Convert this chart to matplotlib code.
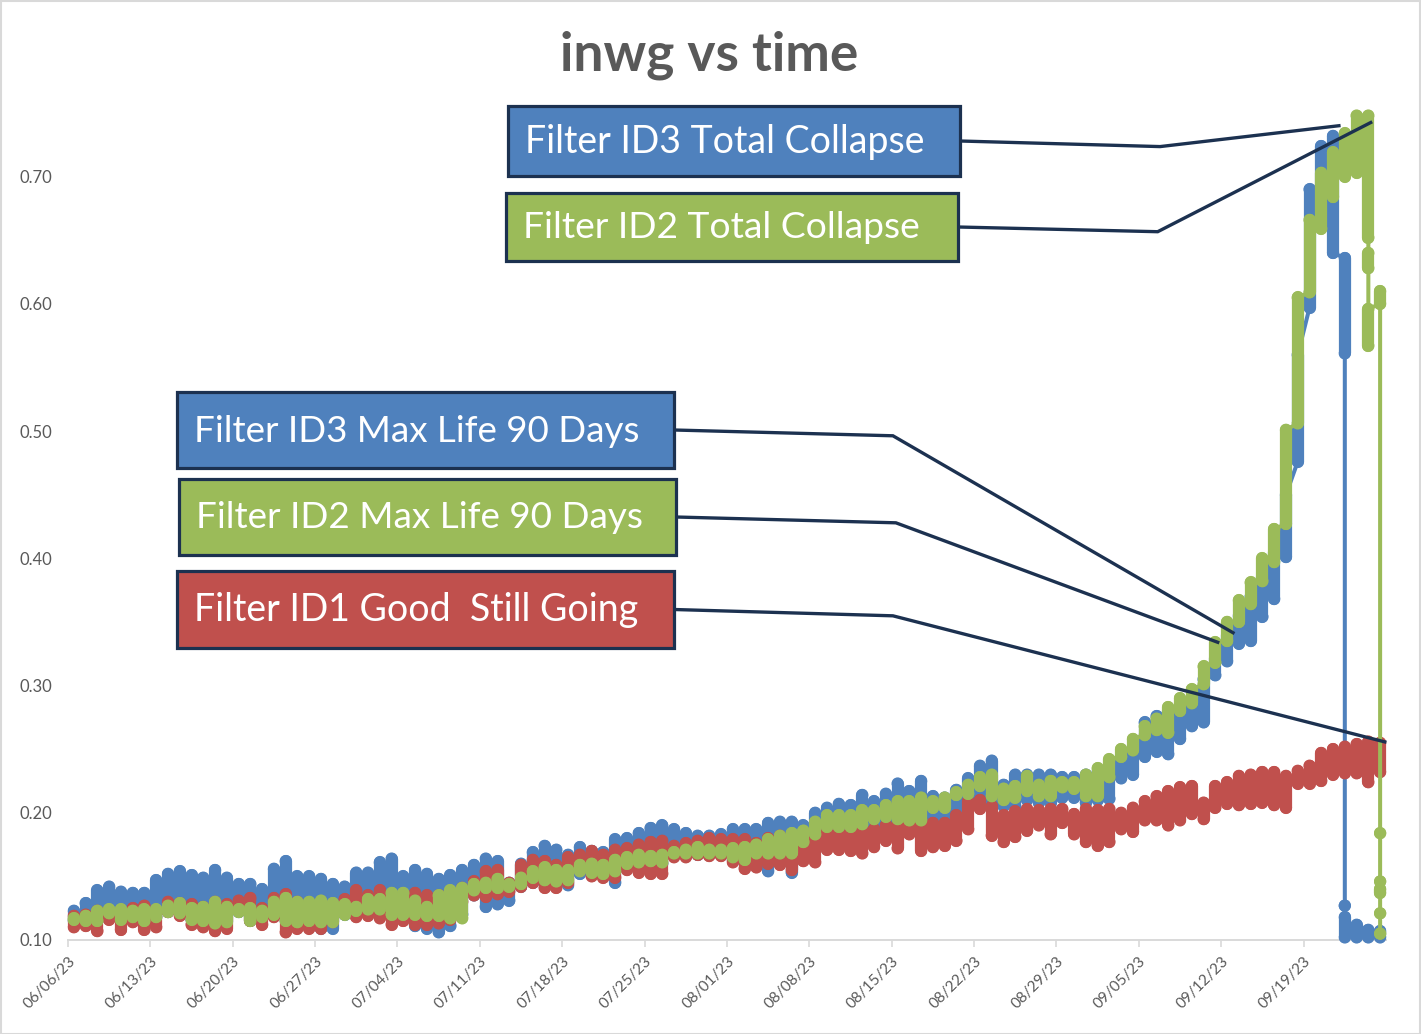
import datetime as dt
import numpy as np
import matplotlib
matplotlib.use("Agg")
import matplotlib.pyplot as plt
import matplotlib.dates as mdates
from matplotlib.collections import LineCollection
from matplotlib.patches import Rectangle
from matplotlib.lines import Line2D

# ---------------- data ----------------
start_date = dt.date(2023, 6, 6)
n_axis_days = 112
tick_labels = ['06/06/23', '06/13/23', '06/20/23', '06/27/23', '07/04/23', '07/11/23',
               '07/18/23', '07/25/23', '08/01/23', '08/08/23', '08/15/23', '08/22/23',
               '08/29/23', '09/05/23', '09/12/23', '09/19/23']
y_ticks = [0.10, 0.20, 0.30, 0.40, 0.50, 0.60, 0.70]
y_tick_labels = ['0.10', '0.20', '0.30', '0.40', '0.50', '0.60', '0.70']
title = 'inwg vs time'

# daily low / high of each filter reading (day 0 = 06/06/23)
red_lo = [0.110, 0.111, 0.107, 0.116, 0.108, 0.114, 0.108, 0.110, 0.122, 0.119,
          0.112, 0.110, 0.107, 0.109, 0.125, 0.115, 0.112, 0.118, 0.106, 0.109,
          0.109, 0.109, 0.114, 0.122, 0.118, 0.119, 0.117, 0.112, 0.115, 0.112,
          0.112, 0.113, 0.116, 0.130, 0.135, 0.134, 0.136, 0.138, 0.142, 0.145,
          0.141, 0.141, 0.145, 0.155, 0.150, 0.149, 0.149, 0.155, 0.153, 0.152,
          0.152, 0.165, 0.165, 0.167, 0.166, 0.166, 0.161, 0.156, 0.157, 0.160,
          0.159, 0.155, 0.162, 0.161, 0.171, 0.171, 0.170, 0.168, 0.173, 0.178,
          0.172, 0.183, 0.170, 0.173, 0.174, 0.178, 0.187, 0.203, 0.182, 0.177,
          0.181, 0.186, 0.190, 0.183, 0.192, 0.183, 0.177, 0.174, 0.177, 0.187,
          0.185, 0.194, 0.194, 0.190, 0.194, 0.199, 0.195, 0.204, 0.207, 0.206,
          0.207, 0.208, 0.206, 0.204, 0.223, 0.223, 0.225, 0.230, 0.231, 0.231,
          0.224, 0.232]
red_hi = [0.119, 0.120, 0.123, 0.123, 0.122, 0.125, 0.127, 0.122, 0.130, 0.129,
          0.128, 0.126, 0.130, 0.128, 0.131, 0.133, 0.125, 0.133, 0.136, 0.130,
          0.128, 0.128, 0.128, 0.132, 0.139, 0.135, 0.139, 0.135, 0.130, 0.137,
          0.135, 0.135, 0.135, 0.141, 0.146, 0.154, 0.155, 0.145, 0.159, 0.163,
          0.162, 0.159, 0.165, 0.167, 0.170, 0.167, 0.171, 0.172, 0.175, 0.177,
          0.178, 0.174, 0.176, 0.178, 0.180, 0.179, 0.179, 0.179, 0.176, 0.180,
          0.182, 0.178, 0.178, 0.180, 0.185, 0.185, 0.185, 0.188, 0.187, 0.190,
          0.192, 0.193, 0.195, 0.192, 0.192, 0.198, 0.209, 0.210, 0.205, 0.198,
          0.201, 0.203, 0.202, 0.203, 0.203, 0.199, 0.203, 0.202, 0.203, 0.200,
          0.204, 0.209, 0.213, 0.217, 0.220, 0.221, 0.208, 0.221, 0.224, 0.229,
          0.230, 0.232, 0.232, 0.229, 0.233, 0.237, 0.247, 0.250, 0.252, 0.254,
          0.256, 0.255]

green_lo = [0.116, 0.115, 0.115, 0.121, 0.116, 0.118, 0.115, 0.118, 0.122, 0.121,
            0.116, 0.115, 0.113, 0.114, 0.122, 0.115, 0.118, 0.120, 0.115, 0.114,
            0.115, 0.114, 0.114, 0.120, 0.123, 0.124, 0.124, 0.120, 0.120, 0.120,
            0.119, 0.119, 0.117, 0.117, 0.139, 0.141, 0.141, 0.142, 0.144, 0.149,
            0.147, 0.146, 0.147, 0.154, 0.153, 0.152, 0.154, 0.160, 0.161, 0.162,
            0.161, 0.168, 0.168, 0.168, 0.168, 0.168, 0.165, 0.163, 0.168, 0.168,
            0.168, 0.168, 0.177, 0.183, 0.189, 0.189, 0.189, 0.191, 0.195, 0.197,
            0.195, 0.194, 0.194, 0.204, 0.204, 0.214, 0.215, 0.221, 0.213, 0.210,
            0.212, 0.217, 0.213, 0.213, 0.220, 0.219, 0.213, 0.213, 0.228, 0.244,
            0.249, 0.261, 0.265, 0.263, 0.280, 0.286, 0.301, 0.318, 0.335, 0.350,
            0.364, 0.382, 0.397, 0.427, 0.506, 0.609, 0.659, 0.684, 0.700, 0.703,
            0.652]
green_hi = [0.117, 0.119, 0.123, 0.124, 0.124, 0.123, 0.124, 0.124, 0.127, 0.129,
            0.125, 0.126, 0.130, 0.126, 0.124, 0.125, 0.123, 0.130, 0.133, 0.130,
            0.130, 0.131, 0.129, 0.128, 0.126, 0.132, 0.132, 0.137, 0.137, 0.131,
            0.126, 0.135, 0.139, 0.141, 0.144, 0.145, 0.148, 0.144, 0.149, 0.154,
            0.157, 0.155, 0.155, 0.159, 0.160, 0.159, 0.163, 0.165, 0.167, 0.166,
            0.167, 0.169, 0.171, 0.173, 0.171, 0.171, 0.172, 0.173, 0.175, 0.179,
            0.182, 0.184, 0.186, 0.193, 0.198, 0.198, 0.198, 0.202, 0.202, 0.206,
            0.209, 0.209, 0.212, 0.209, 0.212, 0.216, 0.222, 0.228, 0.230, 0.219,
            0.221, 0.229, 0.222, 0.225, 0.224, 0.224, 0.230, 0.235, 0.242, 0.250,
            0.258, 0.268, 0.274, 0.283, 0.290, 0.297, 0.315, 0.334, 0.350, 0.367,
            0.381, 0.400, 0.423, 0.501, 0.605, 0.666, 0.703, 0.719, 0.734, 0.748,
            0.748]
# collapse readings of filter ID2 (after its daily ranges above)
green_tail_day = [110, 110, 111, 111, 111, 111, 111, 111]
green_tail_lo = [0.628, 0.567, 0.600, 0.184, 0.146, 0.137, 0.121, 0.105]
green_tail_hi = [0.640, 0.596, 0.610, 0.184, 0.146, 0.140, 0.121, 0.105]

blue_lo = [0.115, 0.115, 0.115, 0.120, 0.115, 0.118, 0.115, 0.118, 0.122, 0.121,
           0.116, 0.115, 0.113, 0.114, 0.122, 0.115, 0.118, 0.120, 0.115, 0.114,
           0.112, 0.109, 0.109, 0.120, 0.120, 0.122, 0.120, 0.118, 0.118, 0.111,
           0.109, 0.106, 0.111, 0.120, 0.135, 0.126, 0.128, 0.131, 0.142, 0.145,
           0.145, 0.146, 0.143, 0.152, 0.152, 0.152, 0.145, 0.158, 0.158, 0.160,
           0.160, 0.166, 0.166, 0.167, 0.167, 0.167, 0.163, 0.160, 0.160, 0.154,
           0.160, 0.153, 0.165, 0.170, 0.180, 0.180, 0.180, 0.180, 0.185, 0.190,
           0.185, 0.190, 0.185, 0.195, 0.195, 0.200, 0.205, 0.210, 0.205, 0.205,
           0.205, 0.210, 0.208, 0.208, 0.212, 0.212, 0.208, 0.210, 0.211, 0.227,
           0.230, 0.244, 0.248, 0.246, 0.258, 0.268, 0.271, 0.308, 0.319, 0.333,
           0.335, 0.354, 0.368, 0.401, 0.476, 0.597, 0.665, 0.640, 0.561]
blue_hi = [0.123, 0.129, 0.139, 0.142, 0.138, 0.137, 0.137, 0.147, 0.152, 0.154,
           0.151, 0.149, 0.155, 0.149, 0.144, 0.144, 0.140, 0.156, 0.162, 0.150,
           0.150, 0.148, 0.144, 0.142, 0.153, 0.153, 0.161, 0.164, 0.150, 0.155,
           0.152, 0.148, 0.151, 0.155, 0.159, 0.164, 0.162, 0.145, 0.160, 0.169,
           0.174, 0.171, 0.167, 0.173, 0.170, 0.169, 0.179, 0.180, 0.184, 0.188,
           0.190, 0.187, 0.184, 0.182, 0.182, 0.183, 0.187, 0.187, 0.187, 0.192,
           0.193, 0.193, 0.190, 0.200, 0.204, 0.207, 0.206, 0.214, 0.209, 0.215,
           0.223, 0.217, 0.225, 0.213, 0.212, 0.218, 0.227, 0.237, 0.241, 0.222,
           0.230, 0.230, 0.230, 0.230, 0.228, 0.228, 0.230, 0.232, 0.236, 0.245,
           0.252, 0.271, 0.276, 0.280, 0.285, 0.290, 0.305, 0.322, 0.340, 0.355,
           0.370, 0.385, 0.405, 0.450, 0.560, 0.690, 0.724, 0.732, 0.636]
# collapse readings of filter ID3
blue_tail_day = [108, 108, 109, 110, 111]
blue_tail_lo = [0.127, 0.102, 0.102, 0.102, 0.102]
blue_tail_hi = [0.127, 0.118, 0.112, 0.108, 0.107]

# annotations: label, face colour, leader elbow (day, value), leader end (day, value)
ann_text = ['Filter ID3 Total Collapse', 'Filter ID2 Total Collapse',
            'Filter ID3 Max Life 90 Days', 'Filter ID2 Max Life 90 Days',
            'Filter ID1 Good  Still Going']
ann_color = ['#4F81BD', '#9BBB59', '#4F81BD', '#9BBB59', '#C0504D']
ann_elbow_day = [92.8, 92.6, 70.1, 70.35, 70.1]
ann_elbow_val = [0.7236, 0.6567, 0.4963, 0.4279, 0.3548]
ann_end_day = [108.0, 110.7, 99.0, 97.7, 111.9]
ann_end_val = [0.740, 0.7425, 0.3415, 0.334, 0.2557]
# box geometry in figure pixels (left, top, right, bottom) and text widths
ann_box = [(508, 106, 960, 176), (506, 193, 958, 261), (177, 392, 674, 468),
           (179, 479, 676, 555), (177, 571, 674, 648)]
ann_text_w = [400, 398, 446, 447, 445]

BLUE, RED, GREEN = '#4F81BD', '#C0504D', '#9BBB59'
NAVY = '#1C3150'
GRAY_TXT = '#595959'
GRID = '#D9D9D9'

W, H = 1421, 1034
DPI = 100
plt.rcParams['font.family'] = ['Lato', 'DejaVu Sans']
fig = plt.figure(figsize=(W / DPI, H / DPI), dpi=DPI)
ax = fig.add_axes([68 / W, 1 - 940 / H, (1386 - 68) / W, (940 - 113) / H])

base = mdates.date2num(start_date)


def px2fig(x, y):
    return x / W, 1 - y / H


def draw_series(lo, hi, tail_day, tail_lo, tail_hi, color, z):
    days = list(range(len(lo))) + list(tail_day)
    los = list(lo) + list(tail_lo)
    his = list(hi) + list(tail_hi)
    xs = [base + d + 0.5 for d in days]
    band_w = 8.8  # points (marker diameter)
    segs = [[(x, a), (x, b)] for x, a, b in zip(xs, los, his)]
    lc = LineCollection(segs, linewidths=band_w, colors=color, capstyle='round',
                        zorder=z + 0.2)
    lc.set_clip_on(False)
    ax.add_collection(lc)
    ax.scatter(xs + xs, los + his, s=band_w ** 2, color=color, edgecolors='none',
               zorder=z + 0.2, clip_on=False)
    # connecting thin line
    px, py = [], []
    for i in range(len(xs) - 1):
        ma = 0.5 * (los[i] + his[i])
        mb = 0.5 * (los[i + 1] + his[i + 1])
        ya = min(max(mb, los[i]), his[i])
        yb = min(max(ma, los[i + 1]), his[i + 1])
        px += [xs[i], xs[i + 1], np.nan]
        py += [ya, yb, np.nan]
    ax.plot(px, py, color=color, lw=2.9, zorder=z + 0.1, clip_on=False,
            solid_capstyle='round')


draw_series(blue_lo, blue_hi, blue_tail_day, blue_tail_lo, blue_tail_hi, BLUE, 2)
draw_series(red_lo, red_hi, [], [], [], RED, 3)
draw_series(green_lo, green_hi, green_tail_day, green_tail_lo, green_tail_hi, GREEN, 4)

ax.set_xlim(base, base + n_axis_days)
ax.set_ylim(0.10, 0.75)
ax.set_xticks([base + 7 * k for k in range(len(tick_labels))])
ax.set_xticklabels(tick_labels, rotation=45, ha='right', va='top',
                   rotation_mode='anchor', fontsize=11, color=GRAY_TXT)
ax.set_yticks(y_ticks)
ax.set_yticklabels(y_tick_labels, fontsize=12, color=GRAY_TXT)
ax.tick_params(axis='y', length=0, pad=11)
ax.tick_params(axis='x', length=5, width=1.2, color=GRID, direction='out', pad=5)
for s in ['left', 'right', 'top']:
    ax.spines[s].set_visible(False)
ax.spines['bottom'].set_color(GRID)
ax.spines['bottom'].set_linewidth(1.4)
ax.spines['bottom'].set_zorder(1)
ax.patch.set_alpha(0)

# figure border
fig.patches.append(Rectangle((0.5 / W, 0.5 / H), 1 - 1.5 / W, 1 - 1.5 / H,
                             transform=fig.transFigure, fill=False,
                             edgecolor=GRID, lw=1.5))

renderer = fig.canvas.get_renderer()


def fit(t, target):
    w = t.get_window_extent(renderer).width
    t.set_fontsize(t.get_fontsize() * target / w)


tt = fig.text(*px2fig(709, 55), title, ha='center', va='center', fontsize=30,
              fontweight='bold', color=GRAY_TXT)
fit(tt, 298)

to_fig = fig.transFigure.inverted()
for i, txt in enumerate(ann_text):
    l, t, r, b = ann_box[i]
    x0, y0 = px2fig(l, b)
    x1, y1 = px2fig(r, t)
    fig.patches.append(Rectangle((x0, y0), x1 - x0, y1 - y0, transform=fig.transFigure,
                                 facecolor=ann_color[i], edgecolor=NAVY, lw=2.3,
                                 zorder=7))
    tx = fig.text(*px2fig(l + 17, (t + b) / 2 + 1), txt, ha='left', va='center',
                  color='white', fontsize=20, zorder=8)
    fit(tx, ann_text_w[i])
    # leader line: box right edge -> elbow -> end point
    sx, sy = px2fig(r, (t + b) / 2)
    ex, ey = to_fig.transform(ax.transData.transform((base + ann_elbow_day[i],
                                                      ann_elbow_val[i])))
    fx, fy = to_fig.transform(ax.transData.transform((base + ann_end_day[i],
                                                      ann_end_val[i])))
    fig.lines.append(Line2D([sx, ex, fx], [sy, ey, fy], transform=fig.transFigure,
                            color=NAVY, lw=2.4, zorder=6, solid_joinstyle='miter'))

fig.savefig('out.png', dpi=DPI)
